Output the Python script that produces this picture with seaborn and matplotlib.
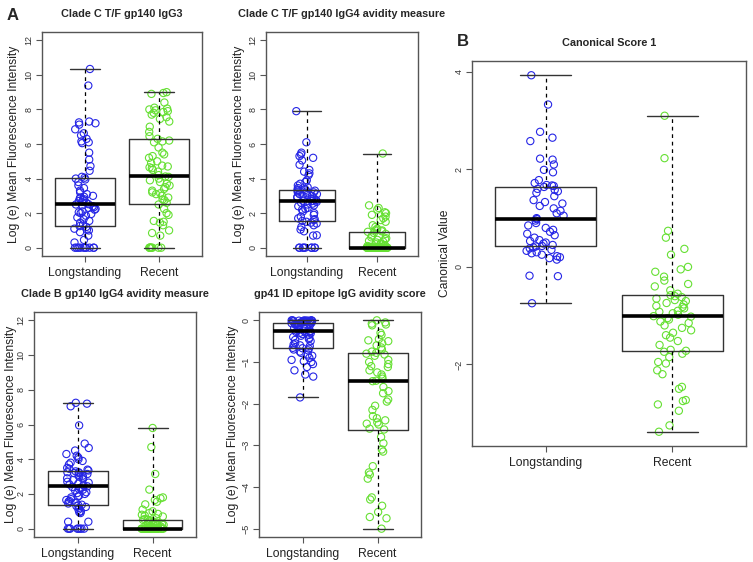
import numpy as np
import matplotlib
matplotlib.use("Agg")
import matplotlib.pyplot as plt
import seaborn as sns

# ---------------------------------------------------------
# Data
# ---------------------------------------------------------
groups = ["Longstanding", "Recent"]

# Clade C T/F gp140 IgG3
c_igg3_long = [0] * 10 + [0.3, 0.45, 0.7, 0.9, 1.0, 1.05, 1.1, 1.2,
               1.25,
               1.35, 1.45, 1.55, 1.65, 1.75, 1.85, 1.95, 2.0, 2.05, 2.1, 2.2, 2.25, 2.3, 2.35, 2.4, 2.45, 2.5,
               2.52,
               2.6, 2.65, 2.7, 2.75, 2.8, 2.85, 2.9, 2.95, 3.0, 3.1, 3.2, 3.3, 3.45, 3.6, 3.8, 3.95, 4.0,
               4.05,
               4.1, 4.45, 4.72, 5.1, 5.5, 6.05, 6.1, 6.15, 6.3, 6.5, 6.62, 6.85, 7.12, 7.2, 7.25, 7.3, 9.38, 10.34]
c_igg3_recent = [0] * 8 + [0.7, 0.85, 1.0, 1.3, 1.45, 1.5, 1.55, 1.9, 2.0, 2.25,
                 2.5,
                 2.6, 2.75, 2.8, 2.9, 3.0, 3.1, 3.15, 3.2, 3.3, 3.4, 3.5, 3.6, 3.7, 3.8, 3.9, 4.0, 4.1,
                 4.12,
                 4.2, 4.4, 4.5, 4.6, 4.65, 4.7, 4.75, 4.9, 5.0, 5.2, 5.3, 5.4, 5.5, 5.8, 6.1, 6.15, 6.2,
                 6.3,
                 6.45, 6.7, 7.0, 7.3, 7.45, 7.55, 7.7, 7.8, 7.85, 7.9, 7.95, 8.0, 8.05, 8.1, 8.4, 8.9, 8.95, 9.0]

# Clade C T/F gp140 IgG4 avidity measure
c_igg4_long = [0] * 9 + [0.7, 0.72, 0.95, 1.05, 1.2, 1.3, 1.4, 1.45, 1.5,
               1.55,
               1.6, 1.65, 1.7, 1.8, 1.9, 2.0, 2.1, 2.2, 2.25, 2.3, 2.4, 2.45, 2.5, 2.55, 2.6, 2.65, 2.7,
               2.71,
               2.75, 2.8, 2.85, 2.9, 2.95, 3.0, 3.0, 3.05, 3.1, 3.1, 3.15, 3.2, 3.2, 3.25, 3.3, 3.3, 3.35,
               3.36,
               3.45, 3.5, 3.6, 3.7, 3.8, 3.9, 4.2, 4.3, 4.4, 4.5, 4.8, 5.05, 5.2, 5.3, 5.4, 5.5, 6.1, 7.9]
c_igg4_recent = [0] * 37 + [0.05, 0.1, 0.1, 0.15, 0.2, 0.2, 0.25, 0.3, 0.35, 0.4, 0.45, 0.5, 0.55, 0.6,
                            0.7, 0.8, 0.85,
                            0.92,
                            0.95, 1.0, 1.0, 1.05, 1.1, 1.2, 1.3, 1.5, 1.6, 1.7, 1.8, 1.9, 2.0, 2.05,
                            2.2, 2.3, 2.45, 5.45]

# Clade B gp140 IgG4 avidity measure
b_igg4_long = [0] * 8 + [0.4, 0.4, 0.9, 0.95, 1.0, 1.1, 1.2, 1.25, 1.3, 1.35,
               1.38,
               1.45, 1.5, 1.55, 1.6, 1.65, 1.7, 1.8, 1.85, 1.9, 2.0, 2.05, 2.1, 2.2, 2.25, 2.3, 2.35, 2.4,
               2.44,
               2.5, 2.55, 2.6, 2.65, 2.7, 2.8, 2.85, 2.9, 2.95, 3.0, 3.05, 3.1, 3.15, 3.2, 3.2, 3.25, 3.25,
               3.3,
               3.35, 3.4, 3.45, 3.5, 3.7, 3.8, 3.9, 4.0, 4.1, 4.2, 4.3, 4.5, 4.65, 4.9, 5.95, 7.05, 7.2, 7.25]
b_igg4_recent = [0] * 37 + [0.03, 0.05, 0.08, 0.1, 0.12, 0.15, 0.2, 0.22, 0.25, 0.28, 0.3, 0.33, 0.36,
                            0.4, 0.42, 0.45, 0.5,
                            0.52,
                            0.55, 0.6, 0.7, 0.75, 0.8, 0.85, 0.9, 1.0, 1.1, 1.4, 1.55, 1.65, 1.75,
                            1.8, 2.25, 3.15, 4.7, 5.8]

# gp41 ID epitope IgG avidity score
gp41_long = [-1.85, -1.35, -1.3, -1.2, -1.12, -1.05, -1.0, -0.98, -0.95, -0.9, -0.85, -0.82, -0.78,
             -0.75, -0.72, -0.7, -0.68, -0.67,
             -0.66,
             -0.62, -0.6, -0.58, -0.55, -0.5, -0.47, -0.45, -0.42, -0.4, -0.37, -0.35, -0.33, -0.31,
             -0.3, -0.29, -0.28, -0.27,
             -0.26,
             -0.25, -0.23, -0.21, -0.2, -0.18, -0.16, -0.15, -0.13, -0.12, -0.11, -0.1, -0.09, -0.08,
             -0.07, -0.065, -0.06, -0.058,
             -0.056,
             -0.05, -0.045, -0.04, -0.035, -0.03, -0.025, -0.02, -0.018, -0.015, -0.012, -0.01,
             -0.008, -0.006, -0.004, -0.002, 0, 0, 0]
gp41_recent = [-5.0, -4.75, -4.72, -4.6, -4.45, -4.3, -4.25, -3.8, -3.7, -3.65, -3.5, -3.15, -3.1,
               -2.95, -2.8,
               -2.62,
               -2.6, -2.5, -2.48, -2.45, -2.4, -2.35, -2.3, -2.15, -2.05, -1.95, -1.9, -1.75, -1.7, -1.6,
               -1.46,
               -1.45, -1.4, -1.35, -1.3, -1.25, -1.2, -1.12, -1.1, -1.05, -1.0, -0.95, -0.85, -0.82, -0.8,
               -0.78,
               -0.75, -0.7, -0.65, -0.6, -0.55, -0.5, -0.48, -0.45, -0.35, -0.3, -0.12, -0.1, -0.08,
               -0.05, 0.0]

# Canonical Score 1
canon_long = [-0.745, -0.19, -0.18, 0.15, 0.18, 0.2, 0.22, 0.25, 0.28, 0.3, 0.33, 0.35, 0.38, 0.4, 0.42,
              0.43,
              0.45, 0.48, 0.5, 0.53, 0.55, 0.6, 0.65, 0.68, 0.72, 0.76, 0.8, 0.85, 0.9, 0.95,
              0.98,
              1.0, 1.05, 1.1, 1.15, 1.2, 1.25, 1.3, 1.33, 1.37, 1.45, 1.52, 1.55, 1.58, 1.6,
              1.64,
              1.66, 1.67, 1.68, 1.72, 1.78, 1.94, 1.99, 2.1, 2.2, 2.22, 2.58, 2.65, 2.77, 3.33, 3.93]
canon_recent = [-3.38, -3.25, -2.95, -2.82, -2.75, -2.73, -2.5, -2.46, -2.2, -2.12, -1.98, -1.95, -1.85,
                -1.78, -1.74,
                -1.72,
                -1.7, -1.6, -1.52, -1.45, -1.4, -1.35, -1.3, -1.25, -1.2, -1.15, -1.12, -1.08, -1.05, -1.02,
                -1.01,
                -0.98, -0.95, -0.92, -0.9, -0.85, -0.82, -0.8, -0.77, -0.74, -0.7, -0.68, -0.65, -0.62, -0.6,
                -0.58,
                -0.55, -0.48, -0.4, -0.35, -0.28, -0.2, -0.1, -0.05, 0.0, 0.25, 0.37, 0.6, 0.74, 2.23, 3.1]

BLUE = "#2626E6"
GREEN = "#66E033"
FRAME = "#555555"

sns.set_theme(style="white")
plt.rcParams["font.family"] = ["Liberation Sans", "DejaVu Sans"]
np.random.seed(3)


def panel(rect, long_vals, recent_vals, title, ylabel, ylim, yticks, labelpad=3):
    ax = fig.add_axes(rect)
    for vals, grp, col in [(long_vals, "Longstanding", BLUE), (recent_vals, "Recent", GREEN)]:
        sns.stripplot(x=[grp] * len(vals), y=vals, order=groups, ax=ax, jitter=0.15,
                      color=col, facecolor="none", edgecolor=col, linewidth=0.8, size=5.2,
                      zorder=2)
    x_all = ["Longstanding"] * len(long_vals) + ["Recent"] * len(recent_vals)
    sns.boxplot(x=x_all, y=list(long_vals) + list(recent_vals), order=groups, ax=ax,
                whis=(0, 100), width=0.8, fill=False, color="#333333", linewidth=1.0,
                showfliers=False,
                medianprops={"color": "black", "linewidth": 2.6},
                whiskerprops={"color": "black", "linestyle": (0, (3, 3)), "linewidth": 0.9},
                capprops={"color": "#333333", "linewidth": 1.0},
                boxprops={"color": "#333333", "linewidth": 1.0},
                zorder=3)
    lo, hi = ylim
    pad = (hi - lo) * 0.04
    ax.set_ylim(lo - pad, hi + pad)
    ax.set_xlim(-0.58, 1.58)
    ax.set_yticks(yticks)
    ax.set_yticklabels([f"{t:g}".replace("-", "\u2212") for t in yticks], rotation=90,
                       va="center", fontsize=6.5, color="#333333")
    ax.set_xticks([0, 1])
    ax.set_xticklabels(groups, fontsize=8.7, color="#222222")
    ax.tick_params(axis="both", direction="out", length=4, width=0.8, color=FRAME,
                   bottom=True, left=True, pad=2)
    ax.tick_params(axis="x", pad=4)
    for sp in ax.spines.values():
        sp.set_visible(True)
        sp.set_color(FRAME)
        sp.set_linewidth(1.0)
    ax.set_xlabel("")
    ax.set_ylabel(ylabel, fontsize=8.7, color="#222222", labelpad=labelpad)
    ax.set_title(title, fontsize=7.8, fontweight="bold", pad=11)
    ax.grid(False)
    return ax


fig = plt.figure(figsize=(7.53, 5.62), dpi=100)
W, H = 753.0, 562.0


def rect(l, t, r, b):
    return [l / W, 1 - b / H, (r - l) / W, (b - t) / H]


mfi = "Log (e) Mean Fluorescence Intensity"
panel(rect(42, 32, 202, 256), c_igg3_long, c_igg3_recent, "Clade C T/F gp140 IgG3", mfi,
      (0, 12), [0, 2, 4, 6, 8, 10, 12])
panel(rect(266, 32, 418, 256), c_igg4_long, c_igg4_recent, "Clade C T/F gp140 IgG4 avidity measure",
      mfi, (0, 12), [0, 2, 4, 6, 8, 10, 12])
panel(rect(34, 312, 196, 537), b_igg4_long, b_igg4_recent, "Clade B gp140 IgG4 avidity measure", mfi,
      (0, 12), [0, 2, 4, 6, 8, 10, 12], labelpad=0)
panel(rect(259, 312, 421, 537), gp41_long, gp41_recent, "gp41 ID epitope IgG avidity score", mfi,
      (-5, 0), [-5, -4, -3, -2, -1, 0], labelpad=2)
all_canon = canon_long + canon_recent
panel(rect(472, 61, 746, 446), canon_long, canon_recent, "Canonical Score 1", "Canonical Value",
      (min(all_canon), max(all_canon)), [-2, 0, 2, 4])

fig.text(13 / W, 1 - 15 / H, "A", fontsize=12, fontweight="bold", ha="center", va="center")
fig.text(463 / W, 1 - 42 / H, "B", fontsize=12, fontweight="bold", ha="center", va="center")

fig.savefig("out.png", dpi=100, facecolor="white")
